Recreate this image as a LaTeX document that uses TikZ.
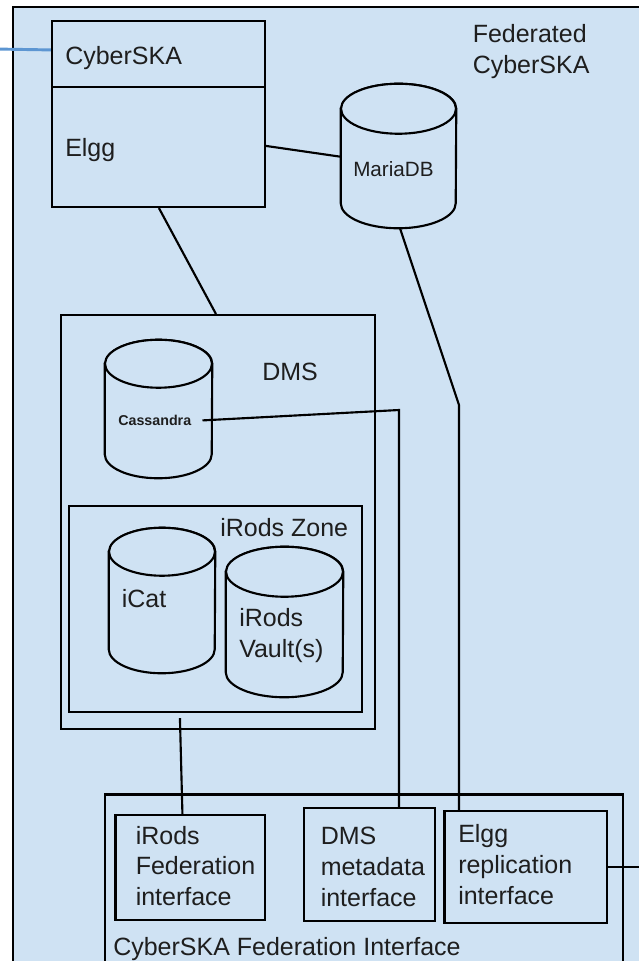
\documentclass[tikz,border=0pt]{standalone}
\usepackage{fontspec}
\setmainfont{Liberation Sans}
\usetikzlibrary{positioning,fit,calc}
\definecolor{skyfill}{HTML}{CFE2F3}
\definecolor{linkblue}{RGB}{93,150,210}
\definecolor{ink}{HTML}{1E1E1E}
% database drum: name, centre x, top y, bottom y, x radius, y radius
\newcommand{\dbcyl}[6]{%
  \node[inner sep=0, fit={(#2-#5,#3) (#2+#5,#4)}] (#1) {};
  \draw[db] (#1.north west) -- (#1.south west)
    arc[start angle=180, end angle=360, x radius=#5, y radius=#6]
    -- (#1.north east)
    arc[start angle=0, end angle=180, x radius=#5, y radius=#6] -- cycle;
  \draw[db] (#1.north) ellipse[x radius=#5, y radius=#6];
}

\begin{document}
\begin{tikzpicture}[x=0.75pt, y=0.75pt,
  box/.style={draw, line width=1.6pt, fill=skyfill, inner sep=0},
  db/.style={draw, line width=1.6pt, fill=skyfill},
  lbl/.style={inner sep=0, anchor=base west, align=left, text=ink,
              font=\fontsize{18.75}{22.9}\selectfont},
  link/.style={draw, line width=1.6pt},
]
  \useasboundingbox (0,0) rectangle (639,-961);
  \clip (0,0) rectangle (639,-961);
  \node[box, fit={(13,-7) (700,-1020)}] (fed) {};
  \node[lbl] (fedlbl) at (472.5,-73.5) {Federated\\CyberSKA};

  % portal
  \node[box, fit={(52,-21) (265,-207)}] (cska) {};
  \draw[link] ($(cska.north west)+(0,-67)$) -- ($(cska.north east)+(0,-67)$);
  \node[lbl] (cskalbl) at (65,-64.5) {CyberSKA};
  \node[lbl] (elgglbl) at (65,-156) {Elgg};
  \dbcyl{maria}{398.5}{-109}{-203}{57.5}{25}
  \node[lbl, font=\fontsize{15.5}{18}\selectfont] (marialbl) at (353,-176) {MariaDB};

  % data management
  \node[box, fit={(61,-315) (375,-729)}] (dms) {};
  \node[lbl] (dmslbl) at (262,-380) {DMS};
  \dbcyl{cass}{158.5}{-364}{-454}{53.5}{24}
  \node[lbl, font=\fontsize{10.7}{13}\selectfont\bfseries] (casslbl) at (118,-425.5) {Cassandra};
  \node[box, fit={(69,-506) (362,-712)}] (zone) {};
  \node[lbl] (zonelbl) at (220,-536) {iRods Zone};
  \dbcyl{icat}{162}{-552}{-649}{53}{24}
  \node[lbl] (icatlbl) at (121.5,-607) {iCat};
  \dbcyl{vault}{284.5}{-572}{-672}{58.5}{25}
  \node[lbl] (vaultlbl) at (239,-657) {iRods\\Vault(s)};

  % federation interface
  \node[box, fit={(105,-794.5) (623,-1020)}] (cfi) {};
  \node[lbl] (cfilbl) at (113,-955) {CyberSKA Federation Interface};
  \node[box, fit={(115.5,-815) (265,-920)}] (irfed) {};
  \node[lbl] (irfedlbl) at (135.5,-905.5) {iRods\\Federation\\interface};
  \node[box, fit={(304,-808) (435,-921)}] (dmsmeta) {};
  \node[lbl] (metalbl) at (320.5,-906) {DMS\\metadata\\interface};
  \node[box, fit={(444.5,-811) (607,-923)}] (elggrep) {};
  \node[lbl] (replbl) at (458,-904) {Elgg\\replication\\interface};

  % connectors
  \coordinate (ext1) at (-5,-49);
  \coordinate (ext2) at (660,-867);
  \coordinate (mbend) at (459,-405);
  \coordinate (cbend) at (399,-410);
  \draw[link, draw=linkblue, line width=2.2pt] (ext1) -- ($(cska.north west)+(0,-30)$);
  \draw[link] ($(cska.north east)+(0,-126)$) -- ($(maria.north west)+(0,-48)$);
  \draw[link] ($(cska.south west)+(108,0)$) -- ($(dms.north west)+(156,0)$);
  \draw[link] ($(maria.south)+(1.5,-25)$) -- (mbend) -- (mbend |- elggrep.north);
  \draw[link] ($(casslbl.east)+(11,0)$) -- (cbend) -- (cbend |- dmsmeta.north);
  \draw[link] ($(zone.south west)+(112,-5)$) -- ($(irfed.north west)+(68,0)$);
  \draw[link] (elggrep.east) -- (elggrep.east -| ext2);
\end{tikzpicture}
\end{document}
